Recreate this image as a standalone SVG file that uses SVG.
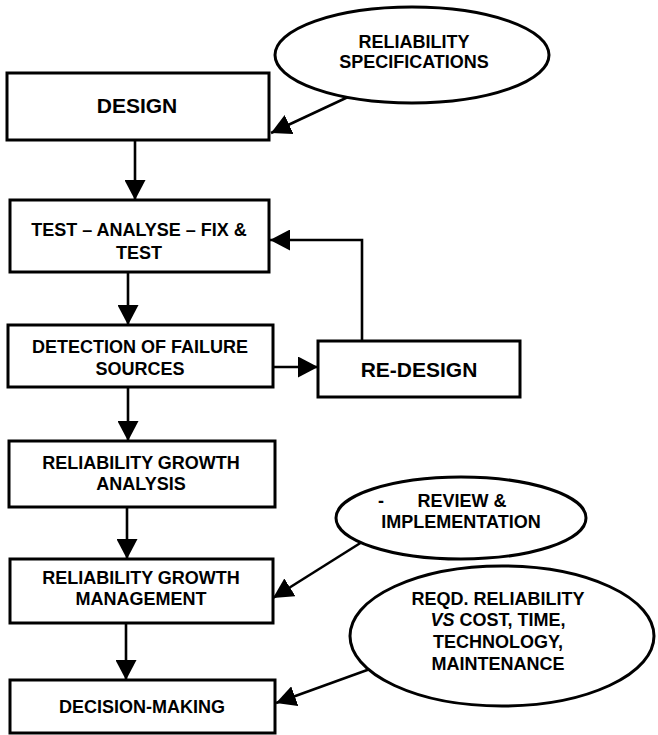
<svg xmlns="http://www.w3.org/2000/svg" width="658" height="735" viewBox="0 0 658 735">
<style>
.box{fill:#fff;stroke:#000;stroke-width:3}
.ell{fill:#fff;stroke:#000;stroke-width:3}
.t{font-family:"Liberation Sans",Arial,sans-serif;font-weight:bold;font-size:18px;fill:#000;text-anchor:middle}
.big{font-size:21px}
.c{fill:none;stroke:#000;stroke-width:2.6}
</style>
<defs>
<marker id="ah" markerUnits="userSpaceOnUse" markerWidth="21" markerHeight="21" refX="20" refY="10.5" orient="auto">
<path d="M0,0 L20,10.5 L0,21 z" fill="#000"/>
</marker>
</defs>
<rect width="658" height="735" fill="#fff"/>
<g id="connectors">
<line class="c" x1="348" y1="97" x2="271" y2="133" marker-end="url(#ah)"/>
<line class="c" x1="135" y1="140" x2="135" y2="200" marker-end="url(#ah)"/>
<line class="c" x1="128" y1="272" x2="128" y2="325" marker-end="url(#ah)"/>
<polyline class="c" points="362,341 362,240 270,240" marker-end="url(#ah)"/>
<line class="c" x1="273" y1="367" x2="318" y2="367" marker-end="url(#ah)"/>
<line class="c" x1="128" y1="387" x2="128" y2="441" marker-end="url(#ah)"/>
<line class="c" x1="127" y1="507" x2="127" y2="559" marker-end="url(#ah)"/>
<line class="c" x1="362" y1="542" x2="273" y2="598" marker-end="url(#ah)"/>
<line class="c" x1="126" y1="623" x2="126" y2="680" marker-end="url(#ah)"/>
<line class="c" x1="370" y1="669" x2="276" y2="703" marker-end="url(#ah)"/>
</g>
<g id="reliability-specifications">
<ellipse class="ell" cx="412" cy="55" rx="137" ry="48"/>
<text class="t" x="414" y="48">RELIABILITY</text>
<text class="t" x="414" y="68">SPECIFICATIONS</text>
</g>
<g id="design">
<rect class="box" x="7" y="73" width="262" height="67"/>
<text class="t big" x="137" y="113">DESIGN</text>
</g>
<g id="test-analyse-fix">
<rect class="box" x="10" y="200" width="259" height="72"/>
<text class="t" x="139" y="236">TEST – ANALYSE – FIX &amp;</text>
<text class="t" x="139" y="259">TEST</text>
</g>
<g id="detection">
<rect class="box" x="8" y="325" width="265" height="62"/>
<text class="t" x="140" y="353">DETECTION OF FAILURE</text>
<text class="t" x="140" y="375">SOURCES</text>
</g>
<g id="re-design">
<rect class="box" x="318" y="341" width="202" height="56"/>
<text class="t big" x="419" y="377">RE-DESIGN</text>
</g>
<g id="growth-analysis">
<rect class="box" x="9" y="441" width="266" height="66"/>
<text class="t" x="141" y="469">RELIABILITY GROWTH</text>
<text class="t" x="141" y="490">ANALYSIS</text>
</g>
<g id="review-implementation">
<ellipse class="ell" cx="461" cy="518" rx="125" ry="41"/>
<text class="t"><tspan x="381" y="507">-</tspan><tspan x="462" y="507">REVIEW &amp;</tspan></text>
<text class="t" x="461" y="528">IMPLEMENTATION</text>
</g>
<g id="growth-management">
<rect class="box" x="10" y="559" width="263" height="64"/>
<text class="t" x="141" y="584">RELIABILITY GROWTH</text>
<text class="t" x="141" y="605">MANAGEMENT</text>
</g>
<g id="reqd-reliability">
<ellipse class="ell" cx="502" cy="636" rx="152" ry="70"/>
<text class="t" x="498" y="605">REQD. RELIABILITY</text>
<text class="t" x="498" y="626"><tspan font-style="italic">VS</tspan> COST, TIME,</text>
<text class="t" x="498" y="648">TECHNOLOGY,</text>
<text class="t" x="498" y="670">MAINTENANCE</text>
</g>
<g id="decision-making">
<rect class="box" x="10" y="680" width="265" height="53"/>
<text class="t" x="142" y="713">DECISION-MAKING</text>
</g>
</svg>
